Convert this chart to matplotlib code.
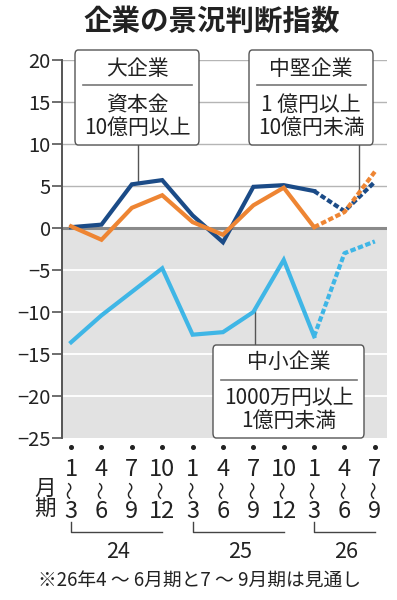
import numpy as np
import matplotlib
matplotlib.use("Agg")
import matplotlib.pyplot as plt
import matplotlib.transforms as mtransforms
from matplotlib.patches import FancyBboxPatch

plt.rcParams['font.family'] = ['Noto Sans CJK JP', 'DejaVu Sans']
plt.rcParams['axes.unicode_minus'] = True

# data
month_start = ['1', '4', '7', '10', '1', '4', '7', '10', '1', '4', '7']
month_end = ['3', '6', '9', '12', '3', '6', '9', '12', '3', '6', '9']
years = ['24', '25', '26']
year_spans = [(0, 3), (4, 7), (8, 10)]
large = [0.1, 0.4, 5.2, 5.7, 1.5, -1.7, 4.9, 5.1, 4.4, 2.0, 5.5]
mid = [0.2, -1.4, 2.4, 3.9, 0.7, -0.8, 2.7, 4.8, 0.1, 1.9, 6.7]
small = [-13.6, -10.4, -7.6, -4.8, -12.7, -12.4, -10.0, -3.8, -12.9, -3.0, -1.6]
n_actual = 9  # last two are forecasts
yticks = [20, 15, 10, 5, 0, -5, -10, -15, -20, -25]

C_LARGE = '#1b4b87'
C_MID = '#ee8533'
C_SMALL = '#3fb6e6'
TXT = '#222222'

W, H = 397, 600
fig = plt.figure(figsize=(W / 100, H / 100), dpi=100)


def px(x, y):
    return x / W, 1 - y / H


ax = fig.add_axes([62 / W, 1 - 438 / H, (387 - 62) / W, (438 - 60) / H])
x = np.arange(len(large))
ax.set_xlim(-0.3, 10.4)
ax.set_ylim(-25, 20)

ax.axhspan(-25, 0, color='#e2e2e2', lw=0, zorder=0)
for v in yticks:
    if v > 0:
        ax.axhline(v, color='#b5b5b5', lw=1.0, zorder=0.5)
    elif v < 0 and v > -25:
        ax.axhline(v, color='white', lw=1.3, zorder=0.5)
ax.axhline(0, color='#8a8a8a', lw=2.2, zorder=0.6)

for s in ['top', 'right', 'bottom']:
    ax.spines[s].set_visible(False)
ax.spines['left'].set_color('#555555')
ax.spines['left'].set_linewidth(1.4)
ax.set_xticks([])
ax.set_yticks(yticks)
ax.set_yticklabels([f'{v}'.replace('-', '\u2212') for v in yticks])
ax.tick_params(axis='y', direction='out', length=7, width=1.2, color='#555555',
               labelsize=14.5, labelcolor=TXT, pad=1)

for vals, col in [(large, C_LARGE), (mid, C_MID), (small, C_SMALL)]:
    ax.plot(x[:n_actual], vals[:n_actual], color=col, lw=3, solid_joinstyle='miter', zorder=3)
    ax.plot(x[n_actual - 1:], vals[n_actual - 1:], color=col, lw=3,
            dashes=(1.3, 0.6), zorder=3)

# leader lines (boxes cover the far end)
lx1 = 2.2
ax.plot([lx1, lx1], [np.interp(lx1, x, large), 15], color='#555555', lw=1, zorder=2)
lx2 = 9.47
ax.plot([lx2, lx2], [np.interp(lx2, x, mid), 15], color='#555555', lw=1, zorder=2)
lx3 = 6.05
ax.plot([lx3, lx3], [np.interp(lx3, x, small), -20], color='#555555', lw=1, zorder=2)


def label_box(x0, y0, x1, y1, sep_y, lines):
    bx, by = px(x0, y1)
    bw, bh = (x1 - x0) / W, (y1 - y0) / H
    ax.add_patch(FancyBboxPatch((bx, by), bw, bh, boxstyle='round,pad=0,rounding_size=0.008',
                                transform=fig.transFigure, clip_on=False,
                                facecolor='white', edgecolor='#555555', lw=1.0, zorder=5))
    sx0, sy = px(x0 + 8, sep_y)
    sx1, _ = px(x1 - 7, sep_y)
    ax.plot([sx0, sx1], [sy, sy], transform=fig.transFigure, clip_on=False,
            color='#777777', lw=1.2, zorder=6)
    cx = (x0 + x1) / 2
    for (txt, ty) in lines:
        ax.text(*px(cx, ty), txt, transform=fig.transFigure, ha='center', va='center',
                fontsize=15, color=TXT, zorder=7)


label_box(75, 50, 199, 145, 85, [('大企業', 69), ('資本金', 105), ('10億円以上', 128)])
label_box(249, 50, 373, 145, 85, [('中堅企業', 69), ('1 億円以上', 105), ('10億円未満', 128)])
label_box(213, 345, 364, 438, 380, [('中小企業', 362), ('1000万円以上', 398), ('1億円未満', 421)])

# x axis labels
bt = mtransforms.blended_transform_factory(ax.transData, fig.transFigure)
ax.plot(x, [1 - 447 / H] * len(x), 'o', ms=2.6, color=TXT, transform=bt, clip_on=False)
for i in range(len(x)):
    ax.text(i, 1 - 469 / H, month_start[i], transform=bt, ha='center', va='center',
            fontsize=17, color=TXT)
    ax.text(i, 1 - 490 / H, '〜', transform=bt, ha='center', va='center', rotation=90,
            fontsize=13, color=TXT)
    ax.text(i, 1 - 511 / H, month_end[i], transform=bt, ha='center', va='center',
            fontsize=17, color=TXT)
fig.text(*px(45, 489), '月', ha='center', va='center', fontsize=15.5, color=TXT)
fig.text(*px(45, 510), '期', ha='center', va='center', fontsize=15.5, color=TXT)

for yr, (a, b) in zip(years, year_spans):
    yb = 1 - 532 / H
    ax.plot([a, a, b], [1 - 522 / H, yb, yb], transform=bt, clip_on=False,
            color='#444444', lw=1.0)
    ax.text((a + b) / 2 + 0.05, 1 - 552 / H, yr, transform=bt, ha='center', va='center',
            fontsize=15.5, color=TXT)

fig.text(*px(200, 580), '※26年4 ～ 6月期と7 ～ 9月期は見通し', ha='center', va='center',
         fontsize=13.5, color=TXT)
fig.text(*px(212, 22), '企業の景況判断指数', ha='center', va='center',
         fontsize=20.5, fontweight='bold', color=TXT)

fig.savefig('out.png', dpi=100)
